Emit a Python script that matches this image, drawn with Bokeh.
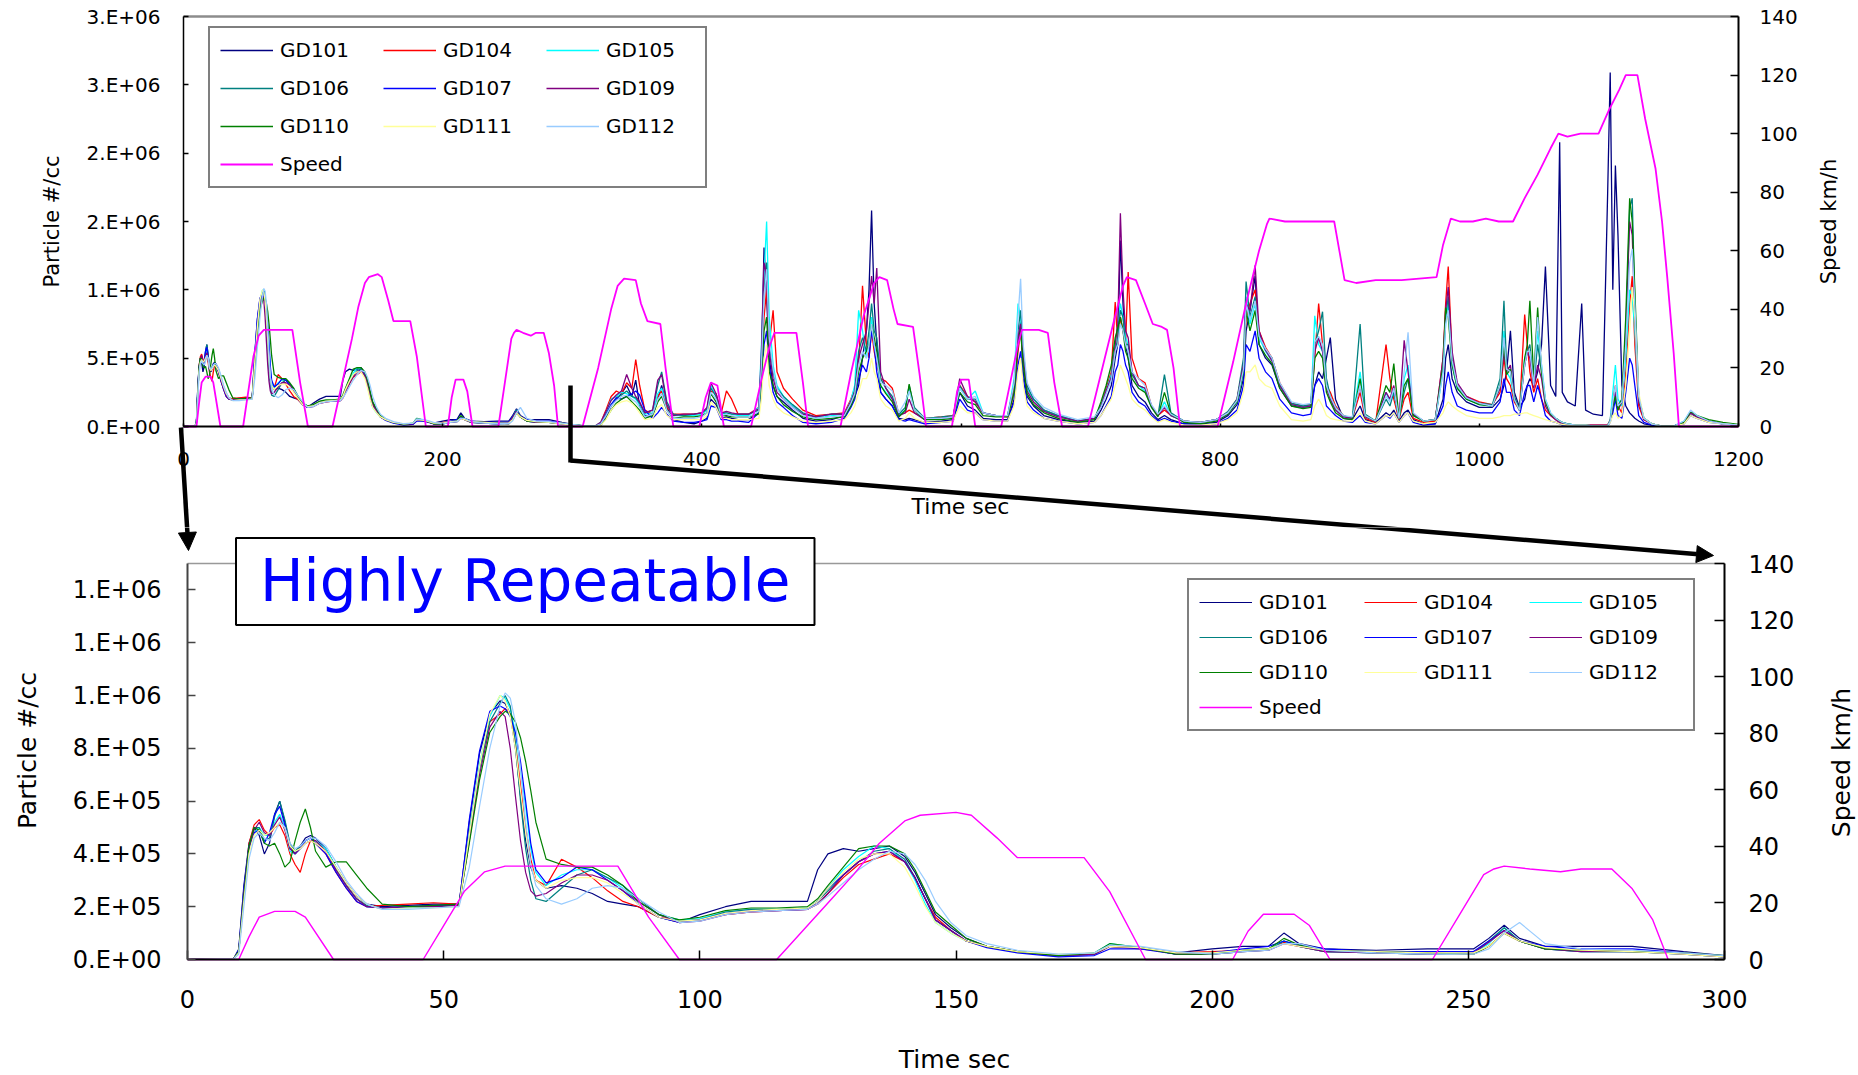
import math
import numpy as np
from bokeh.plotting import figure
from bokeh.models import (Range1d, LinearAxis, FixedTicker, Legend, LegendItem,
                          Arrow, NormalHead, Label)
from bokeh.layouts import column
from bokeh.embed import file_html
from bokeh.resources import INLINE

# ----------------------------------------------------------------- data
SERIES = ["GD101", "GD104", "GD105", "GD106", "GD107", "GD109", "GD110", "GD111", "GD112"]
COLORS = ["#000080", "#FF0000", "#00FFFF", "#008080", "#0000FF", "#800080", "#008000", "#FFFF99", "#99CCFF"]
SPEED_COLOR = "#FF00FF"

# time grid (s); particle values below are in units of 1e4 particles/cc
T_A = [0, 9, 10, 11, 12, 13, 14, 15, 16, 17, 18, 19, 20, 21, 22, 23, 24, 25, 27, 29, 31, 33, 35, 38, 43, 48,
       53, 55, 57, 59, 61, 62, 63, 64, 65, 66, 67, 68, 70, 73, 76, 79, 82, 85, 88, 92, 96, 100, 105, 110, 115,
       121, 123, 125, 128, 131, 134, 137, 140, 142, 144, 146, 149, 152, 156, 162, 170, 177, 180, 186, 193, 200,
       206, 211, 214, 217, 222, 232, 242, 251, 254, 257, 260, 265, 272, 282, 292, 300]
T_B = [310, 318, 322, 326, 330, 334, 338, 342, 346, 349, 352, 356, 362, 366, 369, 373, 378, 386, 394, 400,
       404, 407, 411, 415, 419, 423, 428, 436, 444, 446, 448, 450, 452, 455, 458, 463, 470, 478, 488, 500,
       510, 515, 518, 521, 524, 527, 529, 531, 533, 535, 538, 542, 547, 552, 557, 560, 564, 572, 585, 594,
       599, 605, 611, 617, 627, 636, 641, 644, 646, 648, 651, 656, 664, 675, 690, 703,
       708, 712, 716, 719, 721, 723, 725, 727, 729, 732, 737, 742, 747, 752, 757, 762, 772, 785, 797,
       806, 813, 818, 820, 823, 827, 830, 835, 840, 846, 855, 864, 870, 873, 876, 879, 882, 885, 889, 895, 902,
       908, 912, 920, 928, 931, 934, 938, 942, 945, 949, 957, 966, 972, 974, 976, 979, 983, 990, 1000,
       1010, 1016, 1019, 1021, 1024, 1027, 1031, 1035, 1037, 1039, 1042, 1045, 1048, 1051, 1055, 1059, 1062,
       1064, 1068, 1074, 1079, 1082, 1088, 1095, 1099,
       1101, 1103, 1105, 1107, 1110, 1113, 1116, 1118, 1120, 1123, 1127, 1133, 1140, 1150, 1158, 1163, 1168,
       1177, 1188, 1200]

GD101_A = [0, 0.3, 4, 28, 44, 50, 47, 40, 44, 55, 60, 52, 43, 40, 43, 46, 47, 46, 42, 35, 29, 24, 21, 20, 20.5, 21,
           21, 52, 78, 93, 98, 97, 93, 80, 62, 45, 35, 30, 27, 28, 27, 25, 22, 21, 20, 16, 14, 17, 20, 22, 22,
           22, 34, 40, 42, 41, 42, 43, 39, 33, 25, 17, 12, 8, 5, 3, 1.5, 2, 5, 4.5, 2.5, 4,
           5, 5, 10, 6, 4, 3.5, 4, 4, 8, 13, 8, 5, 5, 5, 3, 1.5]
GD101_B = [0.3, 0.3, 1, 6, 15, 20, 24, 30, 22, 34, 15, 8, 7, 20, 30, 14, 5, 3, 2, 4,
           6, 20, 16, 6, 7, 6, 5, 5, 10, 50, 131, 95, 50, 30, 22, 18, 12, 6, 4, 5,
           8, 15, 22, 30, 50, 70, 100, 158, 90, 60, 25, 20, 15, 6, 5, 6, 5, 3, 4, 5,
           25, 15, 12, 6, 5, 5, 20, 60, 76, 40, 22, 15, 8, 5, 3, 4,
           12, 20, 30, 50, 60, 136, 90, 60, 50, 30, 22, 18, 10, 5, 8, 5, 2, 2, 3,
           8, 16, 35, 70, 85, 110, 60, 50, 45, 28, 15, 14, 15, 30, 40, 35, 50, 65, 20, 6, 5,
           15, 5, 3, 10, 8, 12, 4, 10, 12, 5, 2, 2, 20, 50, 60, 35, 25, 18, 14,
           14, 20, 30, 40, 70, 25, 14, 20, 30, 35, 30, 40, 60, 117, 30, 22, 208, 25, 18, 15, 90, 12, 9, 8, 170,
           259, 100, 191, 140, 30, 15, 10, 8, 6, 4, 2, 1, 0.5, 0.3, 3, 10, 7, 4, 2, 1]

GD104_A = [0, 0.3, 3, 24, 44, 51, 53, 49, 47, 50, 51, 47, 40, 36, 33, 40, 45, 44, 40, 33, 27, 22, 20, 20.5, 21, 21.5,
           21, 48, 73, 90, 93, 95, 93, 82, 66, 50, 38, 30, 28, 38, 35, 31, 26, 22, 20, 16, 15, 15, 17, 18, 18.5,
           19, 21, 25, 31, 36, 38, 40, 37, 31, 23, 16, 11, 7, 5, 3, 1.5, 2, 5, 4, 2.5, 3,
           3.5, 4, 6.5, 5, 3, 3, 2.5, 2, 5, 10, 7, 4, 3.5, 3, 2.5, 1]
GD104_B = [0.5, 0.5, 3, 12, 22, 26, 24, 32, 28, 49, 30, 12, 9, 22, 26, 14, 9, 9, 9, 10,
           12, 26, 24, 10, 26, 20, 9, 9, 14, 40, 80, 100, 60, 85, 40, 28, 20, 12, 8, 9,
           10, 20, 28, 45, 103, 60, 50, 70, 55, 45, 35, 33, 28, 9, 10, 12, 10, 6, 7, 8,
           30, 22, 18, 10, 8, 7, 25, 55, 70, 50, 28, 20, 12, 8, 4, 6,
           16, 28, 40, 91, 60, 80, 70, 60, 113, 50, 35, 32, 15, 8, 12, 8, 4, 3, 5,
           10, 20, 45, 80, 90, 100, 70, 58, 50, 32, 17, 15, 16, 50, 90, 60, 30, 25, 15, 8, 6,
           25, 6, 3, 60, 35, 20, 5, 20, 25, 6, 3, 4, 50, 90, 117, 50, 30, 22, 18,
           16, 25, 50, 35, 30, 18, 12, 82, 60, 40, 25, 35, 20, 12, 8, 5, 3, 2, 1.5, 1, 1, 1, 1, 1, 1,
           5, 20, 30, 15, 10, 40, 90, 110, 60, 15, 5, 2, 0.5, 0.3, 3, 10, 7, 4, 2, 1]

GD105_A = [0, 0.3, 3, 25, 42, 48, 50, 47, 47, 52, 55, 50, 41, 40, 42, 44, 45, 45, 42, 35, 28, 23, 20, 19.5, 19.5, 20,
           20.5, 48, 74, 92, 100, 99, 95, 86, 72, 58, 42, 33, 28, 32, 34, 34, 31, 27, 22, 17, 15, 15.5, 18, 19, 19,
           19.5, 22, 27, 34, 39, 43, 42, 37, 30, 21, 14, 10, 7, 5, 3, 1.5, 2.5, 6, 4.5, 2, 2.5,
           3.5, 4, 7, 5, 3, 2.5, 2, 2.5, 6, 12, 7, 4, 3, 3, 2, 1]
GD105_B = [0.5, 0.5, 3, 10, 20, 22, 25, 24, 22, 20, 16, 9, 10, 24, 28, 16, 8, 8, 8, 9,
           12, 30, 22, 9, 10, 9, 8, 8, 14, 60, 110, 150, 80, 45, 30, 22, 15, 9, 6, 8,
           9, 19, 30, 85, 70, 50, 60, 80, 60, 50, 30, 25, 20, 8, 12, 28, 12, 5, 6, 7,
           28, 20, 26, 10, 8, 8, 35, 90, 80, 50, 28, 20, 12, 8, 4, 6,
           16, 26, 38, 60, 75, 90, 80, 65, 60, 40, 30, 26, 14, 8, 18, 8, 4, 3, 5,
           10, 18, 40, 95, 75, 90, 65, 55, 48, 30, 16, 14, 15, 81, 60, 55, 30, 20, 12, 7, 6,
           40, 7, 4, 25, 18, 25, 6, 35, 45, 8, 4, 5, 40, 75, 90, 45, 28, 20, 16,
           15, 30, 70, 40, 35, 20, 12, 50, 55, 55, 30, 70, 45, 20, 10, 6, 4, 3, 2, 1, 1, 1, 0.5, 0.5, 0.5,
           5, 25, 45, 20, 15, 50, 100, 95, 70, 20, 6, 2, 0.5, 0.3, 4, 11, 8, 4, 2, 1]

GD106_A = [0, 0.3, 3, 24, 43, 50, 50, 45, 46, 54, 60, 53, 44, 41, 43, 45, 46, 45, 41, 34, 28, 23, 20.5, 19.5, 20, 20,
           20.5, 46, 72, 90, 97, 100, 96, 82, 60, 42, 30, 23, 22, 27, 32, 34, 31, 28, 23, 17, 14.5, 15, 18, 19, 19,
           19.5, 22, 26, 32, 37, 41, 42, 38, 31, 23, 15, 11, 7, 5, 3, 1.5, 2, 5, 4.5, 2, 2,
           3, 3.5, 7, 5, 3, 2.5, 2, 2.5, 7, 12, 7, 4, 3, 3, 2, 1]
GD106_B = [0.5, 0.5, 2, 9, 16, 21, 23, 26, 22, 21, 17, 10, 12, 30, 40, 18, 9, 8, 9, 10,
           13, 28, 22, 10, 10, 9, 9, 9, 12, 45, 100, 120, 60, 40, 28, 22, 16, 10, 7, 9,
           9, 18, 26, 55, 65, 55, 70, 90, 70, 65, 35, 28, 22, 9, 14, 30, 14, 6, 7, 8,
           30, 20, 20, 10, 8, 8, 30, 70, 85, 55, 30, 20, 12, 8, 4, 6,
           15, 25, 35, 55, 65, 85, 80, 60, 60, 38, 30, 28, 15, 8, 38, 10, 4, 3, 5,
           11, 20, 50, 106, 80, 95, 68, 56, 50, 31, 17, 15, 16, 60, 70, 84, 35, 22, 14, 8, 6,
           75, 9, 4, 20, 15, 25, 6, 25, 35, 9, 4, 5, 45, 80, 95, 50, 30, 21, 17,
           16, 35, 92, 45, 40, 22, 13, 45, 55, 60, 30, 60, 40, 18, 9, 6, 4, 3, 2, 1, 1, 1, 0.5, 0.5, 0.5,
           4, 15, 25, 15, 20, 60, 160, 167, 90, 20, 6, 2, 0.5, 0.3, 3, 10, 7, 4, 2, 1]

GD107_A = [0, 0.3, 3.5, 27, 43, 48, 49, 44, 48, 55, 58, 51, 42, 40, 42, 45, 46, 44, 40, 33, 27, 22, 20, 19.5, 20, 20.5,
           20.5, 53, 79, 94, 96, 95, 92, 86, 75, 60, 44, 34, 29, 31, 35, 34, 30, 26, 21, 16, 14, 15, 17.5, 18.5, 18.5,
           19, 22, 27, 32, 37, 40, 41, 37, 31, 23, 15, 11, 7, 4.5, 2.5, 1, 1.5, 4, 4, 2, 2.5,
           4, 5, 7, 5.5, 4, 3, 3, 3, 7, 11, 7, 5, 4, 4, 2.5, 1]
GD107_B = [0.3, 0.3, 2, 8, 16, 21, 20, 22, 24, 26, 23, 12, 6, 10, 14, 9, 4, 3, 3, 4,
           5, 15, 14, 5, 5, 4, 4, 3, 10, 30, 60, 70, 45, 25, 18, 14, 8, 3, 2, 3,
           6, 14, 20, 35, 45, 40, 50, 70, 60, 40, 25, 20, 15, 5, 4, 5, 4, 2, 3, 4,
           20, 12, 10, 5, 4, 4, 18, 45, 55, 35, 18, 12, 6, 4, 2, 3,
           8, 15, 22, 40, 45, 60, 55, 45, 40, 25, 18, 15, 8, 4, 6, 4, 2, 1, 2,
           6, 12, 30, 60, 55, 70, 50, 40, 35, 20, 10, 8, 9, 30, 35, 30, 15, 12, 8, 4, 3,
           8, 3, 2, 8, 6, 10, 3, 8, 10, 3, 1, 2, 15, 30, 40, 25, 15, 12, 10,
           10, 18, 35, 25, 25, 12, 8, 25, 30, 30, 18, 30, 20, 8, 4, 3, 2, 1, 1, 0.5, 0.5, 0.5, 0.5, 0.5, 0.5,
           3, 10, 20, 8, 6, 25, 50, 45, 30, 8, 3, 1, 0.3, 0.2, 2, 8, 6, 3, 2, 1]

GD109_A = [0, 0.3, 3, 25, 42, 49, 52, 48, 47, 51, 54, 49, 42, 40, 42, 44, 45, 45, 41, 34, 28, 23, 20, 19.5, 20, 20,
           20.5, 45, 70, 88, 94, 92, 80, 62, 45, 33, 26, 24, 25, 29, 32, 32, 30, 26, 22, 17, 14, 14.5, 17, 18, 18.5,
           19, 21, 25, 32, 37, 40, 41, 37, 31, 23, 15, 11, 7, 5, 3, 1.5, 2, 5, 4.5, 2, 2,
           3, 3.5, 6, 5, 3, 2.5, 2, 2.5, 6.5, 11, 7, 4, 3, 3, 2, 1]
GD109_B = [0.5, 0.5, 3, 11, 19, 23, 26, 38, 28, 22, 18, 10, 12, 34, 38, 16, 8, 9, 9, 10,
           14, 32, 24, 10, 11, 10, 9, 9, 13, 55, 120, 110, 55, 35, 25, 20, 14, 9, 7, 9,
           9, 18, 25, 50, 60, 70, 90, 110, 90, 116, 40, 28, 20, 8, 10, 20, 10, 5, 6, 7,
           35, 22, 18, 10, 8, 8, 30, 65, 75, 50, 26, 18, 11, 7, 4, 6,
           15, 26, 36, 60, 75, 156, 100, 70, 65, 40, 30, 28, 15, 8, 14, 8, 4, 3, 5,
           10, 19, 45, 90, 85, 118, 70, 56, 48, 30, 16, 14, 15, 55, 65, 55, 28, 20, 12, 7, 6,
           30, 7, 4, 25, 20, 30, 6, 63, 40, 9, 4, 5, 50, 85, 102, 55, 32, 22, 17,
           15, 28, 55, 40, 45, 20, 12, 45, 55, 50, 28, 45, 35, 15, 8, 5, 3, 2, 1.5, 1, 1, 1, 1, 1, 1,
           4, 15, 25, 12, 18, 70, 150, 140, 80, 18, 5, 2, 0.5, 0.3, 3, 10, 7, 4, 2, 1]

GD110_A = [0, 0.3, 3, 24, 43, 50, 49, 44, 43, 44, 40, 35, 37, 45, 52, 57, 50, 41, 35, 37, 37, 32, 27, 21, 20, 20.5,
           21, 44, 68, 86, 92, 94, 93, 90, 84, 75, 64, 52, 38, 36, 35, 35, 32, 28, 22, 17, 15, 16, 18.5, 19.5, 19.5,
           20, 23, 28, 35, 42, 43, 43, 40, 34, 26, 18, 13, 8, 5, 3, 1.5, 2.5, 6, 4.5, 2, 2,
           3.5, 4, 8, 5.5, 3.5, 3, 2.5, 2, 5, 10, 7, 4, 3.5, 3, 2.5, 1.5]
GD110_B = [0.5, 0.5, 1, 6, 12, 17, 20, 22, 18, 15, 12, 6, 8, 18, 22, 12, 6, 7, 7, 8,
           10, 24, 18, 8, 8, 7, 7, 7, 9, 35, 70, 80, 40, 30, 22, 16, 11, 7, 5, 6,
           7, 15, 22, 40, 50, 55, 60, 75, 65, 55, 30, 24, 18, 7, 12, 31, 12, 5, 5, 6,
           25, 18, 16, 8, 7, 7, 25, 60, 70, 45, 24, 16, 10, 6, 3, 5,
           18, 30, 45, 65, 72, 80, 70, 55, 50, 35, 28, 25, 14, 7, 25, 9, 3, 2, 4,
           9, 18, 40, 85, 70, 85, 60, 52, 46, 28, 15, 13, 14, 50, 55, 50, 25, 18, 10, 6, 5,
           35, 8, 4, 30, 25, 46, 6, 30, 35, 8, 4, 5, 45, 87, 80, 45, 28, 20, 16,
           15, 30, 60, 38, 42, 20, 12, 50, 60, 92, 35, 87, 40, 18, 9, 6, 4, 3, 2, 1, 1, 1, 0.5, 0.5, 0.5,
           4, 15, 22, 12, 20, 80, 167, 150, 100, 22, 6, 2, 0.5, 0.3, 3, 11, 8, 5, 3, 1.5]

GD111_A = [0, 0.3, 2.5, 22, 40, 47, 49, 47, 48, 50, 52, 50, 43, 41, 42, 44, 45, 44, 41, 35, 29, 24, 21, 19, 19.5, 19.5,
           20, 47, 73, 93, 100, 98, 92, 80, 64, 48, 36, 30, 27, 30, 31, 31, 29, 25, 21, 16, 14.5, 15, 17.5, 18.5, 19,
           19.5, 22, 27, 33, 38, 40, 40, 35, 28, 20, 14, 10, 7, 5, 3, 2, 2.5, 5, 4.5, 2.5, 2.5,
           3.5, 4, 6, 5, 3.5, 3, 2.5, 2.5, 5, 10, 7, 4.5, 3.5, 3, 2, 1]
GD111_B = [0.3, 0.3, 1, 5, 12, 16, 18, 19, 17, 14, 10, 5, 6, 14, 16, 8, 5, 5, 5, 5,
           8, 18, 14, 6, 6, 5, 5, 5, 6, 20, 50, 60, 30, 20, 14, 10, 7, 4, 3, 4,
           5, 10, 15, 25, 35, 35, 40, 50, 40, 35, 20, 15, 12, 4, 6, 10, 6, 3, 3, 4,
           15, 10, 10, 5, 4, 4, 15, 40, 50, 30, 15, 10, 6, 4, 2, 3,
           8, 14, 20, 30, 35, 45, 40, 35, 30, 20, 15, 12, 7, 3, 5, 3, 1, 1, 2,
           5, 10, 25, 40, 40, 45, 35, 30, 28, 15, 5, 4, 5, 15, 20, 15, 8, 6, 5, 4, 4,
           10, 4, 2, 8, 7, 10, 3, 8, 10, 4, 2, 3, 10, 15, 18, 15, 12, 8, 6,
           6, 7, 8, 8, 8, 9, 9, 10, 10, 9, 8, 7, 6, 5, 4, 3, 2, 1.5, 1, 1, 1, 1, 0.5, 0.5, 0.5,
           3, 8, 10, 6, 8, 30, 70, 102, 80, 25, 6, 2, 0.5, 0.3, 2, 8, 6, 3, 2, 1]

GD112_A = [0, 0.3, 2, 20, 38, 46, 48, 46, 45, 48, 52, 50, 44, 42, 43, 45, 46, 46, 43, 37, 30, 25, 21, 19, 19, 19.5,
           20, 35, 58, 80, 96, 101, 99, 90, 72, 52, 36, 28, 23, 21, 23, 27, 28, 27, 23, 18, 14, 14.5, 17, 18, 18.5,
           19, 21, 24, 29, 34, 38, 41, 40, 36, 30, 22, 14, 9, 6, 3.5, 2, 2.5, 5.5, 5, 3, 2,
           3, 3.5, 6, 6, 3.5, 2.5, 2, 2, 4, 10, 14, 6, 4, 3.5, 2.5, 1.5]
GD112_B = [0.4, 0.4, 2, 8, 15, 19, 22, 23, 20, 18, 14, 7, 9, 20, 24, 12, 6, 6, 6, 7,
           10, 25, 20, 8, 9, 8, 7, 7, 11, 45, 95, 115, 65, 42, 28, 20, 14, 8, 6, 7,
           8, 17, 24, 45, 55, 50, 60, 75, 60, 50, 32, 30, 26, 10, 18, 26, 12, 6, 6, 7,
           28, 20, 22, 10, 8, 8, 32, 80, 108, 60, 32, 22, 14, 9, 5, 7,
           14, 24, 34, 55, 60, 75, 70, 60, 55, 40, 35, 30, 16, 9, 15, 9, 4, 3, 5,
           10, 19, 42, 90, 78, 92, 66, 57, 50, 32, 18, 16, 17, 62, 66, 60, 30, 22, 14, 8, 7,
           30, 8, 4, 22, 18, 28, 6, 40, 69, 10, 4, 5, 40, 75, 85, 48, 30, 21, 17,
           15, 30, 65, 42, 40, 20, 12, 45, 55, 55, 30, 80, 45, 20, 10, 6, 4, 3, 2, 1, 1, 1, 0.5, 0.5, 0.5,
           4, 18, 30, 15, 18, 60, 120, 130, 90, 22, 6, 2, 0.5, 0.3, 4, 12, 8, 4, 2, 1]

SERIES_DATA = {
    "GD101": (GD101_A, GD101_B), "GD104": (GD104_A, GD104_B), "GD105": (GD105_A, GD105_B),
    "GD106": (GD106_A, GD106_B), "GD107": (GD107_A, GD107_B), "GD109": (GD109_A, GD109_B),
    "GD110": (GD110_A, GD110_B), "GD111": (GD111_A, GD111_B), "GD112": (GD112_A, GD112_B),
}

# vehicle speed (km/h)
SPEED_T = [0, 10, 12, 14, 17, 21, 23, 28.5, 46, 50, 54, 58, 62, 70, 84, 90, 96, 115, 120, 125, 130, 135, 140, 143,
           150, 153, 158, 162, 175, 180, 187, 204, 207, 210, 216, 219, 223, 243, 248, 253, 255, 257, 262, 268, 272,
           278, 282, 286, 289, 308, 320, 330, 335, 340, 349, 353, 358, 368, 372, 378, 398, 403, 407, 412, 417,
           438, 446, 452, 456, 473, 478, 482, 507, 515, 525, 533, 537, 543, 548, 551, 563, 568, 573, 593, 597,
           600, 606, 611, 631, 638, 644, 647, 660, 667, 672, 678, 698, 708, 718, 725, 728, 735, 742, 748, 755,
           759, 764, 769, 798, 810, 820, 830, 836, 838, 850, 870, 888, 892, 896, 905, 920, 940, 967, 972, 978,
           985, 995, 1005, 1015, 1026, 1035, 1045, 1055, 1061, 1068, 1078, 1092, 1100, 1108, 1113, 1122, 1128,
           1136, 1141, 1145, 1150, 1154, 1200]
SPEED_V = [0, 0, 8, 15, 17, 17, 15, 0, 0, 12, 24, 31, 33, 33, 33, 15, 0, 0, 10, 20, 30, 41, 49, 51,
           52, 51, 43, 36, 36, 24, 0, 0, 10, 16, 16, 12, 0, 0, 15, 30, 32, 33, 32, 31, 32,
           32, 25, 14, 0, 0, 20, 40, 48, 50.5, 50, 42, 36, 35, 20, 0, 0, 10, 15, 14, 0,
           0, 16, 27, 32, 32, 15, 0, 0, 18, 38, 49, 51, 50, 40, 35, 34, 18, 0, 0, 12,
           16, 16, 0, 0, 15, 28, 33, 33, 32, 15, 0, 0, 18, 36, 48, 51, 50, 42, 35, 34,
           33, 20, 0, 0, 22, 42, 60, 69, 71, 70, 70, 70, 60, 50, 49, 50, 50, 51, 62, 71,
           70, 70, 71, 70, 70, 78, 86, 95, 100, 99, 100, 100, 108, 115, 120, 120, 105,
           88, 70, 51, 25, 0, 0]

TOP_X_TICKS = [0, 200, 400, 600, 800, 1000, 1200]
TOP_P_TICKS = [0, 500000, 1000000, 1500000, 2000000, 2500000, 3000000]
TOP_P_LABELS = ["0.E+00", "5.E+05", "1.E+06", "2.E+06", "2.E+06", "3.E+06", "3.E+06"]
BOT_X_TICKS = [0, 50, 100, 150, 200, 250, 300]
BOT_P_TICKS = [0, 200000, 400000, 600000, 800000, 1000000, 1200000, 1400000]
BOT_P_LABELS = ["0.E+00", "2.E+05", "4.E+05", "6.E+05", "8.E+05", "1.E+06", "1.E+06", "1.E+06"]
SPEED_TICKS = [0, 20, 40, 60, 80, 100, 120, 140]

# ----------------------------------------------------------------- layout constants (window px)
FONT = "DejaVu Sans"
W = 1858
H_TOP = 527
H_BOT = 1075 - H_TOP
TL, TR, TT, TB = 183, 1738, 16, 426          # top plot area (window px)
BL, BR, BT, BB = 187, 1724, 563, 959         # bottom plot area (window px)
T_MAX, P_TOP_MAX = 1200.0, 3.0e6
B_MAX, P_BOT_MAX = 300.0, 1.5e6
S_MAX = 140.0


def top_x(px):
    return (px - TL) / (TR - TL) * T_MAX


def top_y(py):
    return (TB - py) / (TB - TT) * P_TOP_MAX


def top_s(py):
    return (TB - py) / (TB - TT) * S_MAX


def bot_x(px):
    return (px - BL) / (BR - BL) * B_MAX


def bot_y(py):
    return (BB - py) / (BB - BT) * P_BOT_MAX


def bot_s(py):
    return (BB - py) / (BB - BT) * S_MAX


def style_axis(ax, size, standoff, tick_in, color="black", width=2):
    ax.axis_line_color = color
    ax.axis_line_width = width
    ax.major_tick_line_color = color
    ax.major_tick_line_width = 1.5
    ax.major_tick_in = tick_in
    ax.major_tick_out = 0
    ax.minor_tick_line_color = None
    ax.major_label_text_font = FONT
    ax.major_label_text_font_size = f"{size}px"
    ax.major_label_text_color = "black"
    ax.major_label_standoff = standoff


def axis_title(fig, x, y, text, size, angle=0.0):
    fig.add_layout(Label(x=x, y=y, text=text, angle=angle, text_align="center", text_baseline="middle",
                         text_font=FONT, text_font_size=f"{size}px", text_color="black"))


def build(fig, lw, speed_lw, t_end):
    """Draw all series; the bottom chart shows only the first t_end seconds of the same run."""
    renderers = {}
    t_all = T_A + T_B
    for name, color in zip(SERIES, COLORS):
        a, b = SERIES_DATA[name]
        pts = [(t, v) for t, v in zip(t_all, a + b) if t <= t_end]
        t = np.array([p[0] for p in pts], dtype=float)
        v = np.array([p[1] for p in pts], dtype=float) * 1e4
        renderers[name] = fig.line(t, v, line_color=color, line_width=lw)
    sp = [(t, v) for t, v in zip(SPEED_T, SPEED_V) if t <= t_end]
    renderers["Speed"] = fig.line([p[0] for p in sp], [p[1] for p in sp], line_color=SPEED_COLOR,
                                  line_width=speed_lw, y_range_name="speed")
    return renderers


def add_legend(fig, renderers, vx, vy, spacing, label_width):
    items = [LegendItem(label=n, renderers=[renderers[n]]) for n in SERIES + ["Speed"]]
    leg = Legend(items=items, orientation="horizontal", ncols=3, location=(vx, vy),
                 glyph_width=53, glyph_height=20, label_standoff=7, label_width=label_width,
                 label_height=20, spacing=spacing, padding=10,
                 label_text_font=FONT, label_text_font_size="20px", label_text_color="black",
                 border_line_color="black", border_line_width=2, background_fill_color="white",
                 background_fill_alpha=1.0)
    fig.add_layout(leg)


def base_figure(height, xr, yr, sr):
    f = figure(width=W, height=height, x_range=xr, y_range=yr, output_backend="svg", toolbar_location=None,
               x_axis_location=None, y_axis_location=None,
               min_border=0, min_border_left=0, min_border_right=0, min_border_top=0, min_border_bottom=0,
               background_fill_color="white", border_fill_color="white", outline_line_color=None)
    f.extra_y_ranges = {"speed": sr}
    f.grid.visible = False
    return f


# ----------------------------------------------------------------- top chart
top = base_figure(H_TOP,
                  Range1d(top_x(0), top_x(W)),
                  Range1d(top_y(H_TOP), top_y(0)),
                  Range1d(top_s(H_TOP), top_s(0)))

xa = LinearAxis(ticker=FixedTicker(ticks=TOP_X_TICKS), fixed_location=0, bounds=(0, T_MAX))
style_axis(xa, 20, 25, 3)
top.add_layout(xa, "below")

ya = LinearAxis(ticker=FixedTicker(ticks=TOP_P_TICKS), fixed_location=0, bounds=(0, P_TOP_MAX))
ya.major_label_overrides = {k: s for k, s in zip(TOP_P_TICKS, TOP_P_LABELS)}
style_axis(ya, 20, 23, 5, width=1.5)
top.add_layout(ya, "left")

yr = LinearAxis(y_range_name="speed", ticker=FixedTicker(ticks=SPEED_TICKS), fixed_location=T_MAX,
                bounds=(0, S_MAX))
style_axis(yr, 20, 21, 8)
top.add_layout(yr, "right")

top.line([0, T_MAX], [P_TOP_MAX, P_TOP_MAX], line_color="#8c8c8c", line_width=2.5)

r_top = build(top, 1.3, 1.8, T_MAX)
add_legend(top, r_top, 208, H_TOP - 188, 14, 89)

axis_title(top, top_x(960), top_y(506), "Time sec", 22)
axis_title(top, top_x(51.5), top_y(221), "Particle #/cc", 21, math.pi / 2)
axis_title(top, top_x(1828), top_y(221), "Speed km/h", 21, math.pi / 2)

# ----------------------------------------------------------------- bottom chart
bot = base_figure(H_BOT,
                  Range1d(bot_x(0), bot_x(W)),
                  Range1d(bot_y(1075), bot_y(H_TOP)),
                  Range1d(bot_s(1075), bot_s(H_TOP)))

bxa = LinearAxis(ticker=FixedTicker(ticks=BOT_X_TICKS), fixed_location=0, bounds=(0, B_MAX))
style_axis(bxa, 24, 30, 9)
bot.add_layout(bxa, "below")

bya = LinearAxis(ticker=FixedTicker(ticks=BOT_P_TICKS), fixed_location=0, bounds=(0, P_BOT_MAX))
bya.major_label_overrides = {k: s for k, s in zip(BOT_P_TICKS, BOT_P_LABELS)}
style_axis(bya, 24, 26, 8, color="#444444")
bot.add_layout(bya, "left")

byr = LinearAxis(y_range_name="speed", ticker=FixedTicker(ticks=SPEED_TICKS), fixed_location=B_MAX,
                 bounds=(0, S_MAX))
style_axis(byr, 24, 24, 10)
bot.add_layout(byr, "right")

bot.line([0, B_MAX], [P_BOT_MAX, P_BOT_MAX], line_color="#999999", line_width=1.5)

r_bot = build(bot, 1.2, 1.4, B_MAX)
add_legend(bot, r_bot, 1187, 1075 - 731, 11, 94)

axis_title(bot, bot_x(954), bot_y(1059), "Time sec", 25)
axis_title(bot, bot_x(26.5), bot_y(750), "Particle #/cc", 25, math.pi / 2)
axis_title(bot, bot_x(1841), bot_y(762), "Speed km/h", 25, math.pi / 2)

# ----------------------------------------------------------------- zoom arrows and caption
A1 = [(180.5, 427.0), (188.0, 550.0)]
A2 = [(570.0, 385.0), (570.0, 460.0), (1713.0, 555.0)]
LW = 4.5


def seg(fig, fx, fy, p0, p1, head=None):
    fig.add_layout(Arrow(end=head, x_start=fx(p0[0]), y_start=fy(p0[1]), x_end=fx(p1[0]), y_end=fy(p1[1]),
                         line_width=LW, line_color="black"))


seg(top, top_x, top_y, A1[0], A1[1])
seg(top, top_x, top_y, A2[0], (A2[1][0], A2[1][1] + 2))
seg(top, top_x, top_y, A2[1], A2[2])
seg(bot, bot_x, bot_y, A1[0], A1[1], NormalHead(size=18, fill_color="black", line_color="black", line_width=1))
seg(bot, bot_x, bot_y, A2[1], A2[2], NormalHead(size=17, fill_color="black", line_color="black", line_width=1))

cap = Label(x=bot_x(259 - 23.5), y=bot_y(600 - 19), text="Highly Repeatable", text_font=FONT,
            text_font_size="58px", text_color="#0000FF", text_baseline="alphabetic",
            background_fill_color="white", background_fill_alpha=1.0,
            border_line_color="black", border_line_width=2)
try:
    cap.padding = dict(left=24, right=24, top=9, bottom=10)
except Exception:
    cap.padding = 11
bot.add_layout(cap)

layout = column(top, bot, spacing=0)
open("out.html", "w").write(file_html(layout, INLINE))
